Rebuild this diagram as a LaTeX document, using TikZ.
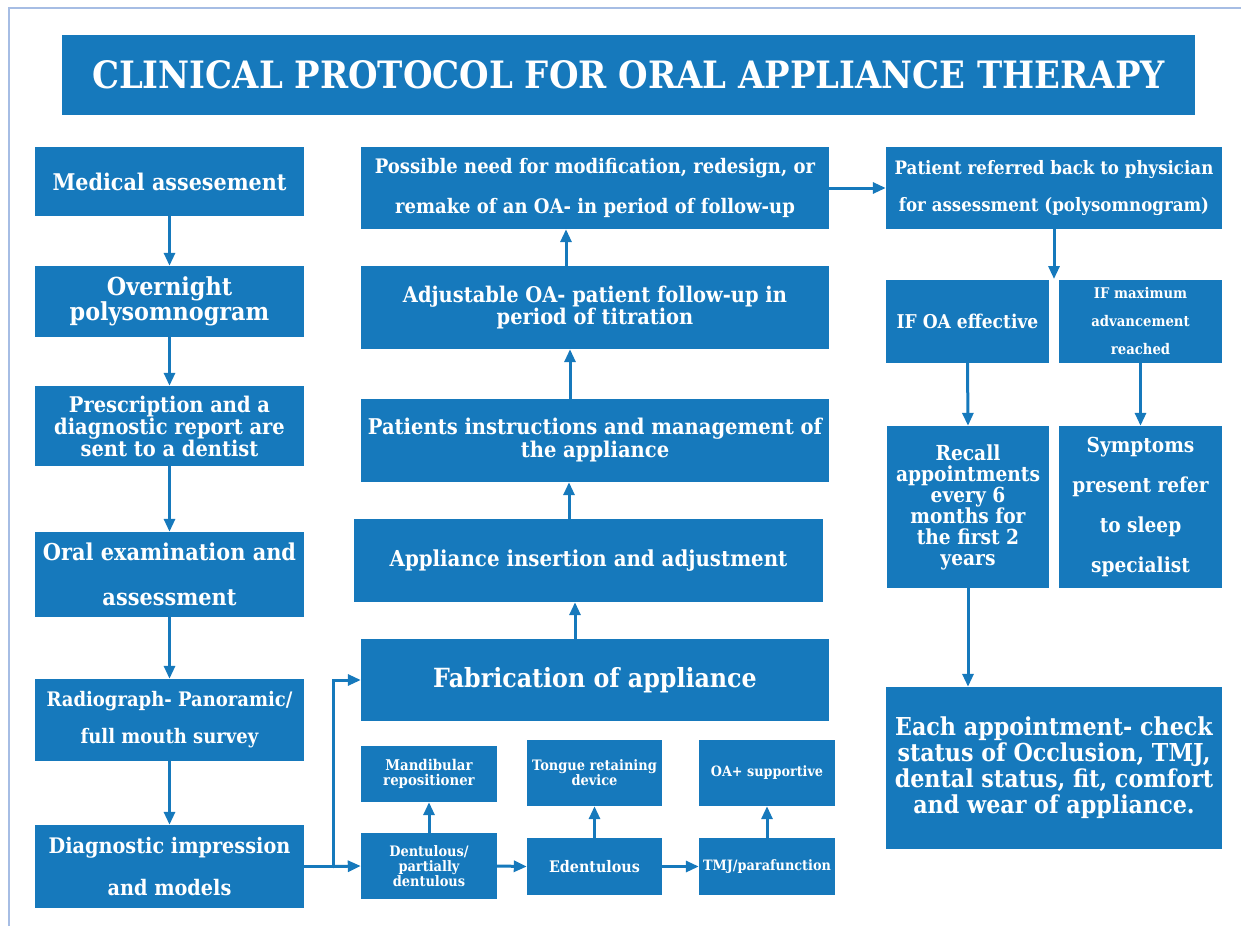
\documentclass[tikz,border=0pt]{standalone}
\usepackage{fontspec}
\setmainfont{DejaVu Serif}[FakeStretch=0.9]
\usetikzlibrary{arrows.meta}
\definecolor{boxblue}{RGB}{22,121,188}
\definecolor{framecol}{RGB}{166,189,228}
\newcommand\fs[2]{\fontsize{#1}{#2}\selectfont\bfseries}
\begin{document}
\begin{tikzpicture}[x=1pt,y=-1pt,
  box/.style={fill=boxblue,text=white,inner sep=0pt,align=center},
  flow/.style={draw=boxblue,line width=3pt,-{Triangle[length=13pt,width=11pt]}},
  link/.style={draw=boxblue,line width=3pt}]
\useasboundingbox (0,0) rectangle (1241,926);
% page frame (top and left edges)
\draw[framecol,line width=2pt] (9,926) -- (9,8) -- (1241,8);

% title banner
\node[box,minimum width=1133pt,minimum height=80pt,font=\fs{37.7}{42}] (title) at (628.5,75)
  {CLINICAL PROTOCOL FOR ORAL APPLIANCE THERAPY};

% left column: diagnosis
\node[box,minimum width=269pt,minimum height=69pt,font=\fs{23}{25}] (med) at (169.5,181.5) {Medical assesement};
\node[box,minimum width=269pt,minimum height=71pt,font=\fs{24.8}{25.5}] (over) at (169.5,301.5) {Overnight\\polysomnogram};
\node[box,minimum width=269pt,minimum height=80pt,font=\fs{21.6}{22}] (presc) at (169.5,426) {Prescription and a\\diagnostic report are\\sent to a dentist};
\node[box,minimum width=269pt,minimum height=85pt,font=\fs{23.2}{45}] (oral) at (169.5,574.5) {Oral examination and\\assessment};
\node[box,minimum width=269pt,minimum height=82pt,font=\fs{20}{37}] (radio) at (169.5,720) {Radiograph- Panoramic/\\full mouth survey};
\node[box,minimum width=269pt,minimum height=83pt,font=\fs{21.4}{42}] (diag) at (169.5,866.5) {Diagnostic impression\\and models};

% middle column: appliance
\node[box,minimum width=468pt,minimum height=82pt,font=\fs{20}{40}] (poss) at (595,188) {Possible need for modification, redesign, or\\remake of an OA- in period of follow-up};
\node[box,minimum width=468pt,minimum height=83pt,font=\fs{21.6}{22.5}] (adj) at (595,307.5) {Adjustable OA- patient follow-up in\\period of titration};
\node[box,minimum width=468pt,minimum height=83pt,font=\fs{21.7}{23}] (pat) at (595,440.5) {Patients instructions and management of\\the appliance};
\node[box,minimum width=469pt,minimum height=83pt,font=\fs{22}{24}] (ins) at (588.5,560.5) {Appliance insertion and adjustment};
\node[box,minimum width=468pt,minimum height=82pt,font=\fs{26.4}{28}] (fab) at (595,680) {Fabrication of appliance};

% appliance types
\node[box,minimum width=136pt,minimum height=56pt,font=\fs{14.8}{15}] (mand) at (429,774) {Mandibular\\repositioner};
\node[box,minimum width=135pt,minimum height=66pt,font=\fs{14.4}{15}] (tongue) at (594.5,773) {Tongue retaining\\device};
\node[box,minimum width=136pt,minimum height=66pt,font=\fs{14.2}{16}] (oaplus) at (767,773) {OA+ supportive};
\node[box,minimum width=136pt,minimum height=66pt,font=\fs{14.4}{15}] (dent) at (429,866) {Dentulous/\\partially\\dentulous};
\node[box,minimum width=135pt,minimum height=57pt,font=\fs{15.9}{17}] (edent) at (594.5,866.5) {Edentulous};
\node[box,minimum width=136pt,minimum height=57pt,font=\fs{14.3}{16}] (tmj) at (767,866.5) {TMJ/parafunction};

% right column: follow-up
\node[box,minimum width=336pt,minimum height=82pt,font=\fs{18.5}{37}] (pref) at (1054,188) {Patient referred back to physician\\for assessment (polysomnogram)};
\node[box,minimum width=163pt,minimum height=83pt,font=\fs{19}{20}] (ifoa) at (967.5,321.5) {IF OA effective};
\node[box,minimum width=163pt,minimum height=83pt,font=\fs{14.7}{28}] (ifmax) at (1140.5,321.5) {IF maximum\\advancement\\reached};
\node[box,minimum width=162pt,minimum height=162pt,font=\fs{20.7}{21}] (recall) at (968,507) {Recall\\appointments\\every 6\\months for\\the first 2\\years};
\node[box,minimum width=163pt,minimum height=162pt,font=\fs{20.6}{40}] (symp) at (1140.5,507) {Symptoms\\present refer\\to sleep\\specialist};
\node[box,minimum width=336pt,minimum height=162pt,font=\fs{24.7}{26}] (each) at (1054,768) {Each appointment- check\\status of Occlusion, TMJ,\\dental status, fit, comfort\\and wear of appliance.};

% connectors, left column
\draw[flow] (med) -- (over);
\draw[flow] (over) -- (presc);
\draw[flow] (presc) -- (oral);
\draw[flow] (oral) -- (radio);
\draw[flow] (radio) -- (diag);

% branch from impressions
\coordinate (jn) at (333,866.5);
\draw[link] (diag.east) -- (jn);
\draw[flow] (jn) -- (dent.west);
\draw[flow] (jn) |- (fab.west);

% appliance types
\draw[flow] (dent.north) -- (mand.south);
\draw[flow] (edent.north) -- (tongue.south);
\draw[flow] (tmj.north) -- (oaplus.south);
\draw[flow] (dent.east) -- (edent.west);
\draw[flow] (edent.east) -- (tmj.west);

% middle column upward
\draw[flow] ([xshift=-20pt]fab.north) -- ([xshift=-13.5pt]ins.south);
\draw[flow] ([xshift=-19.5pt]ins.north) -- ([xshift=-26pt]pat.south);
\draw[flow] ([xshift=-25pt]pat.north) -- ([xshift=-25pt]adj.south);
\draw[flow] ([xshift=-29pt]adj.north) -- ([xshift=-29pt]poss.south);

% right column
\draw[flow] (poss.east) -- (pref.west);
\coordinate (split) at (1054,279);
\draw[flow] (pref.south) -- (split);
\draw[flow] (ifoa.south) -- (recall.north);
\draw[flow] (ifmax.south) -- (symp.north);
\draw[flow] (recall.south) -- (recall.south |- each.north);
\end{tikzpicture}
\end{document}
